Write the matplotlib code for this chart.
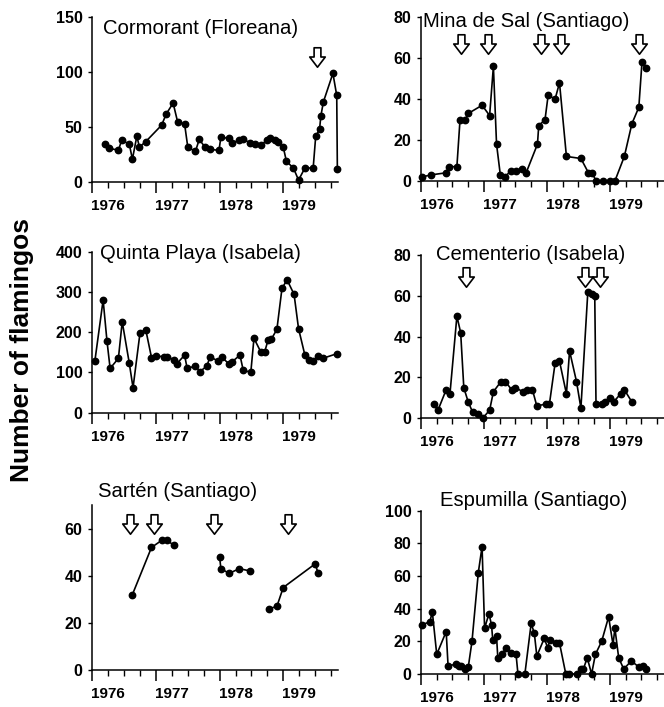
import numpy as np
import matplotlib.pyplot as plt
from matplotlib.path import Path
from matplotlib.transforms import blended_transform_factory, offset_copy

plt.rcParams['font.family'] = ['Liberation Sans', 'DejaVu Sans']

W, H = 664, 707
years = [1976, 1977, 1978, 1979]
quarters = np.arange(1976, 1979.8, 0.25)

# Cormorant (Floreana)
corm_x = [0.20, 0.27, 0.41, 0.46, 0.58, 0.63, 0.70, 0.74, 0.84, 1.09, 1.16, 1.27, 1.34, 1.45,
          1.50, 1.62, 1.68, 1.77, 1.85, 1.99, 2.02, 2.14, 2.19, 2.31, 2.37, 2.48, 2.55, 2.65,
          2.74, 2.79, 2.87, 2.91, 3.00, 3.05, 3.16, 3.24, 3.34, 3.47, 3.51, 3.57, 3.59, 3.63,
          3.78, 3.84, 3.85]
corm_y = [35, 31, 29, 38, 35, 21, 42, 32, 37, 52, 62, 72, 55, 53, 32, 28, 39, 32, 30, 29, 41,
          40, 36, 38, 39, 36, 35, 34, 38, 40, 38, 37, 32, 19, 13, 2, 13, 13, 42, 48, 60, 73,
          99, 79, 12]
corm_arrows = [3.53]

# Mina de Sal (Santiago)
mina_x = [0.02, 0.16, 0.40, 0.45, 0.57, 0.62, 0.70, 0.75, 0.97, 1.09, 1.15, 1.20, 1.26, 1.33,
          1.43, 1.51, 1.61, 1.67, 1.85, 1.87, 1.97, 2.02, 2.13, 2.20, 2.31, 2.54, 2.66, 2.72,
          2.78, 2.89, 3.01, 3.08, 3.23, 3.35, 3.46, 3.51, 3.57]
mina_y = [2, 3, 4, 7, 7, 30, 30, 33, 37, 32, 56, 18, 3, 2, 5, 5, 6, 4, 18, 27, 30, 42, 40, 48,
          12, 11, 4, 4, 0, 0, 0, 0, 12, 28, 36, 58, 55]
mina_arrows = [0.64, 1.06, 1.90, 2.22, 3.46]

# Quinta Playa (Isabela)
quinta_x = [0.04, 0.17, 0.23, 0.28, 0.41, 0.47, 0.58, 0.64, 0.75, 0.84, 0.93, 1.00, 1.12, 1.17,
            1.28, 1.33, 1.45, 1.49, 1.62, 1.69, 1.80, 1.85, 1.98, 2.03, 2.14, 2.20, 2.32, 2.37,
            2.49, 2.54, 2.65, 2.71, 2.76, 2.81, 2.90, 2.98, 3.06, 3.17, 3.24, 3.34, 3.41, 3.47,
            3.54, 3.62, 3.85]
quinta_y = [128, 280, 179, 110, 135, 226, 124, 62, 199, 206, 137, 141, 139, 139, 132, 122, 143,
            110, 116, 102, 116, 139, 128, 139, 122, 127, 143, 106, 100, 185, 150, 152, 180, 182,
            207, 309, 330, 294, 209, 143, 132, 128, 141, 135, 147]

# Cementerio (Isabela)
cem_x = [0.21, 0.27, 0.40, 0.46, 0.57, 0.63, 0.68, 0.75, 0.82, 0.91, 0.98, 1.09, 1.15, 1.27,
         1.34, 1.44, 1.50, 1.62, 1.68, 1.77, 1.84, 1.98, 2.04, 2.13, 2.20, 2.31, 2.36, 2.47,
         2.54, 2.65, 2.71, 2.76, 2.78, 2.87, 2.92, 3.00, 3.06, 3.17, 3.23, 3.35]
cem_y = [7, 4, 14, 12, 50, 42, 15, 8, 3, 2, 0, 4, 13, 18, 18, 14, 15, 13, 14, 14, 6, 7, 7, 27,
         28, 12, 33, 18, 5, 62, 61, 60, 7, 7, 8, 10, 8, 12, 14, 8]
cem_arrows = [0.71, 2.60, 2.84]

# Sarten (Santiago), gaps as nan
sarten_x = [0.63, 0.93, 1.09, 1.17, 1.28, np.nan, 2.00, 2.02, 2.15, 2.31, 2.48, np.nan,
            2.78, 2.90, 3.00, 3.50, 3.55]
sarten_y = [32, 52, 55, 55, 53, np.nan, 48, 43, 41, 43, 42, np.nan, 26, 27, 35, 45, 41]
sarten_arrows = [0.59, 0.97, 1.91, 3.08]

# Espumilla (Santiago)
espu_x = [0.01, 0.14, 0.18, 0.25, 0.40, 0.43, 0.56, 0.61, 0.64, 0.70, 0.75, 0.81, 0.91, 0.97,
          1.01, 1.08, 1.12, 1.14, 1.20, 1.22, 1.29, 1.35, 1.43, 1.51, 1.54, 1.65, 1.75, 1.80,
          1.84, 1.96, 2.01, 2.05, 2.14, 2.20, 2.30, 2.35, 2.48, 2.54, 2.58, 2.64, 2.71, 2.77,
          2.87, 2.98, 3.05, 3.08, 3.14, 3.22, 3.34, 3.47, 3.52, 3.57]
espu_y = [30, 32, 38, 12, 26, 5, 6, 5, 5, 3, 4, 20, 62, 78, 28, 37, 30, 21, 23, 10, 12, 16, 13,
          12, 0, 0, 31, 25, 11, 22, 16, 21, 19, 19, 0, 0, 0, 3, 3, 10, 0, 12, 20, 35, 18, 28,
          10, 3, 8, 4, 5, 3]

arrow_path = Path([(-0.35, 1), (0.35, 1), (0.35, 0.05), (0.8, 0.05), (0, -1), (-0.8, 0.05),
                   (-0.35, 0.05), (-0.35, 1)],
                  [Path.MOVETO] + [Path.LINETO] * 6 + [Path.CLOSEPOLY])

fig = plt.figure(figsize=(W / 100, H / 100), dpi=100)


def make_axes(left, top, right, bottom):
    return fig.add_axes([left / W, 1 - bottom / H, (right - left) / W, (bottom - top) / H])


def panel(ax, title, x, y, ylim, yticks, tpos, arrows=None, arrow_y=None):
    x = 1976 + np.array(x, dtype=float)
    ax.plot(x, y, '-o', color='black', lw=1.2, ms=4.6, clip_on=False)
    if arrows:
        ax.plot(1976 + np.array(arrows), [arrow_y] * len(arrows), ls='none', marker=arrow_path,
                ms=14, mfc='white', mec='black', mew=1.2, clip_on=False)
    ax.set_xlim(1976, 1979.86)
    ax.set_ylim(*ylim)
    for s in ['top', 'right']:
        ax.spines[s].set_visible(False)
    for s in ['left', 'bottom']:
        ax.spines[s].set_linewidth(1.1)
    ax.set_yticks(yticks)
    ax.set_yticklabels([str(v) for v in yticks], fontweight='bold', fontsize=11.5)
    ax.tick_params(axis='y', length=3, width=1, pad=4)
    ax.set_xticks(years)
    ax.set_xticklabels([])
    ax.set_xticks(quarters, minor=True)
    ax.tick_params(axis='x', which='major', length=8, width=1.1)
    ax.tick_params(axis='x', which='minor', length=4.5, width=1)
    tr = offset_copy(blended_transform_factory(ax.transData, ax.transAxes), fig=fig,
                     x=-1, y=-17, units='dots')
    for yr in years:
        ax.text(yr, 0, str(yr), transform=tr, ha='left', va='top', fontweight='bold',
                fontsize=11)
    ax.text(tpos[0], tpos[1], title, transform=ax.transAxes, ha='left', va='center',
            fontsize=14.6)


ax1 = make_axes(92.3, 17.3, 338, 182.3)
panel(ax1, 'Cormorant (Floreana)', corm_x, corm_y, (0, 150), [0, 50, 100, 150],
      (0.044, 0.935), corm_arrows, 114)

ax2 = make_axes(421, 17.3, 664, 181)
panel(ax2, 'Mina de Sal (Santiago)', mina_x, mina_y, (0, 80), [0, 20, 40, 60, 80],
      (0.008, 0.973), mina_arrows, 67)

ax3 = make_axes(92.3, 251.7, 338, 412.7)
panel(ax3, 'Quinta Playa (Isabela)', quinta_x, quinta_y, (0, 400), [0, 100, 200, 300, 400],
      (0.031, 0.986))

ax4 = make_axes(421, 255, 664, 418.3)
panel(ax4, 'Cementerio (Isabela)', cem_x, cem_y, (0, 80), [0, 20, 40, 60, 80],
      (0.062, 1.0), cem_arrows, 69)

ax5 = make_axes(92.3, 505, 338, 670)
panel(ax5, 'Sartén (Santiago)', sarten_x, sarten_y, (0, 70), [0, 20, 40, 60],
      (0.023, 1.08), sarten_arrows, 62)

ax6 = make_axes(421, 510.7, 664, 674)
panel(ax6, 'Espumilla (Santiago)', espu_x, espu_y, (0, 100), [0, 20, 40, 60, 80, 100],
      (0.078, 1.065))

fig.text(22 / W, 1 - 350 / H, 'Number of flamingos', rotation=90, ha='center', va='center',
         fontweight='bold', fontsize=19)

fig.savefig('out.png', dpi=100)
